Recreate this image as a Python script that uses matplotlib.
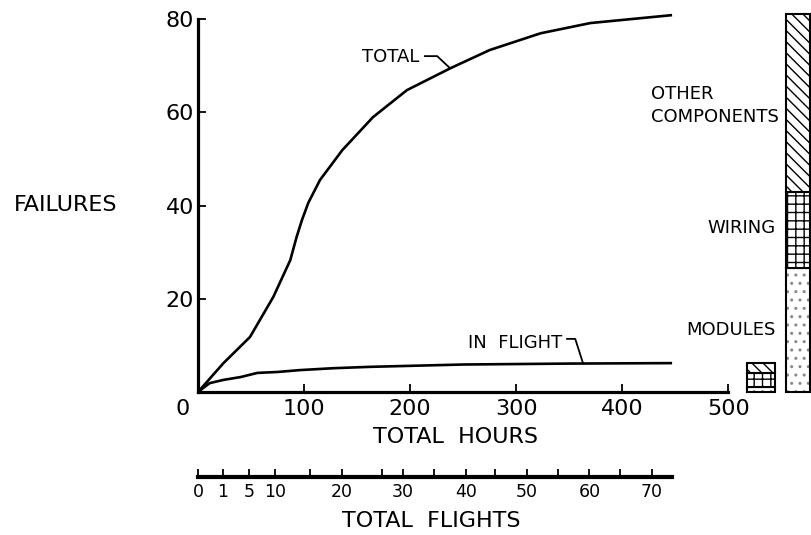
import numpy as np
import matplotlib.pyplot as plt
from matplotlib import transforms

# Curvas (horas, fallas)
total_hours = [0, 24, 49, 71, 87, 93, 98, 104, 115, 136, 165, 197, 238, 275, 323, 370, 447]
total_fail = [0, 6.2, 11.8, 20.4, 28.3, 33.3, 36.9, 40.6, 45.5, 51.9, 59, 64.8, 69.5, 73.4, 77, 79.2, 80.9]

flight_hours = [0, 11, 24, 40, 56, 75, 96, 127, 162, 250, 350, 447]
flight_fail = [0, 1.9, 2.6, 3.2, 4.1, 4.3, 4.7, 5.1, 5.4, 5.9, 6.1, 6.2]

# Desglose por tipo de falla (barras apiladas)
parts = ["MODULES", "WIRING", "OTHER\nCOMPONENTS"]
total_parts = [26.6, 16.3, 38.2]
flight_parts = [1.0, 3.0, 2.2]

# Escala de vuelos: posicion en horas de cada marca
flight_ticks = [0, 1, 5, 10, 15, 20, 26.5, 30, 35, 40, 45, 50, 55, 60, 65, 70]
flight_tick_hours = [0, 23.6, 48, 72.6, 105.7, 136, 173.6, 193, 222.6, 252.8, 280, 310, 339, 369, 398, 428]
flight_labels = ["0", "1", "5", "10", "", "20", "", "30", "", "40", "", "50", "", "60", "", "70"]

hour_ticks = [0, 100, 200, 300, 400, 500]
fail_ticks = [20, 40, 60, 80]

plt.rcParams['font.family'] = 'DejaVu Sans'
plt.rcParams['hatch.linewidth'] = 1.0

fig = plt.figure(figsize=(8.12, 5.35), dpi=100)
ax = fig.add_axes([198 / 812, 143 / 535, 613 / 812, 382 / 535])
ax.set_xlim(0, 578)
ax.set_ylim(0, 82)

ax.plot(total_hours, total_fail, color="black", lw=1.9, solid_capstyle="butt")
ax.plot(flight_hours, flight_fail, color="black", lw=1.9, solid_capstyle="butt")

for s in ["top", "right"]:
    ax.spines[s].set_visible(False)
ax.spines["left"].set_linewidth(2.3)
ax.spines["bottom"].set_linewidth(2.3)
ax.spines["left"].set_bounds(0, 80)
ax.spines["bottom"].set_bounds(0, 500)

ax.set_xticks(hour_ticks)
ax.set_xticklabels([str(h) for h in hour_ticks])
ax.set_yticks(fail_ticks)
ax.set_yticklabels([str(v) for v in fail_ticks])
ax.tick_params(direction="in", length=6, width=1.3, labelsize=16, pad=5)
ax.tick_params(axis="y", pad=3)
# el "0" compartido va corrido a la izquierda
lab0 = ax.get_xticklabels()[0]
lab0.set_transform(lab0.get_transform() + transforms.ScaledTranslation(-0.15, 0, fig.dpi_scale_trans))
ax.get_xticklines()[0].set_visible(False)

# barras de desglose
colors = ["#888888", "black", "black"]
hatches = ["..", "++", "\\\\\\"]
for pos, wid, vals in [(531, 27, flight_parts), (566, 23, total_parts)]:
    bottom = 0
    for v, c, h in zip(vals, colors, hatches):
        ax.bar(pos, v, width=wid, bottom=bottom, color="white", edgecolor=c,
               hatch=h, lw=0, clip_on=False)
        ax.bar(pos, v, width=wid, bottom=bottom, fill=False, edgecolor="black",
               lw=1.5, clip_on=False)
        bottom += v

# etiquetas de las barras
ax.text(427, 61.5, "OTHER\nCOMPONENTS", fontsize=13, ha="left", va="center",
        linespacing=1.3)
ax.text(545, 35.3, "WIRING", fontsize=13, ha="right", va="center")
ax.text(545, 13.3, "MODULES", fontsize=13, ha="right", va="center")

# etiquetas de curvas con lineas guia
ax.text(209, 71.9, "TOTAL", fontsize=13, ha="right", va="center")
ax.plot([214, 225.5, 237.7], [72.1, 72.1, 69.5], color="black", lw=1.3)
ax.text(343, 10.5, "IN  FLIGHT", fontsize=13, ha="right", va="center")
ax.plot([348, 355.7, 363], [11.4, 11.4, 6.2], color="black", lw=1.3)

fig.text(66 / 812, 1 - 205 / 535, "FAILURES", fontsize=16, ha="center", va="center")
fig.text(456 / 812, 1 - 437 / 535, "TOTAL  HOURS", fontsize=16, ha="center", va="center")
fig.text(431 / 812, 1 - 521 / 535, "TOTAL  FLIGHTS", fontsize=16, ha="center", va="center")

# eje de vuelos
ax2 = fig.add_axes([198 / 812, 58 / 535, 613 / 812, 0.02])
ax2.set_xlim(0, 578)
ax2.patch.set_visible(False)
for s in ["top", "right", "left"]:
    ax2.spines[s].set_visible(False)
ax2.spines["bottom"].set_linewidth(3)
ax2.spines["bottom"].set_bounds(0, 447)
ax2.set_yticks([])
ax2.set_xticks(flight_tick_hours)
ax2.set_xticklabels(flight_labels)
ax2.tick_params(direction="in", length=6, width=1.3, labelsize=12.5, pad=4)

fig.savefig("out.png", dpi=100)
